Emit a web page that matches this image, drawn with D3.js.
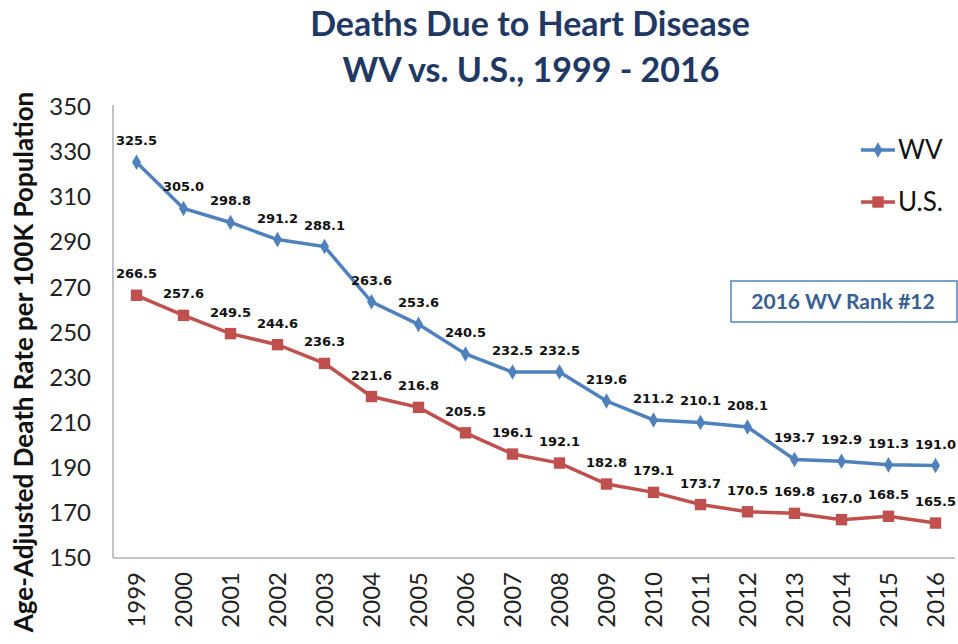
<!DOCTYPE html>
<html lang="en">
<head>
  <meta charset="UTF-8">
  <title>Deaths Due to Heart Disease</title>
  <script src="https://cdn.jsdelivr.net/npm/d3@7/dist/d3.min.js"></script>
  <style>
    body { margin: 0; background: #fff; }
    svg { display: block; }
    .axis path { stroke: #868686; }
    .axis line { display: none; }
    .axis text { font-family: Lato, sans-serif; font-size: 24px; fill: #222; }
    .lbl { font-family: "DejaVu Sans", sans-serif; font-size: 13px; font-weight: bold; fill: #111; text-anchor: middle; }
  </style>
</head>
<body>
<script>
  const years = [1999, 2000, 2001, 2002, 2003, 2004, 2005, 2006, 2007, 2008, 2009, 2010, 2011, 2012, 2013, 2014, 2015, 2016]
  const wv = [325.5, 305.0, 298.8, 291.2, 288.1, 263.6, 253.6, 240.5, 232.5, 232.5, 219.6, 211.2, 210.1, 208.1, 193.7, 192.9, 191.3, 191.0]
  const us = [266.5, 257.6, 249.5, 244.6, 236.3, 221.6, 216.8, 205.5, 196.1, 192.1, 182.8, 179.1, 173.7, 170.5, 169.8, 167.0, 168.5, 165.5]
  const yTicks = [150, 170, 190, 210, 230, 250, 270, 290, 310, 330, 350]

  const width = 958, height = 644
  const mLeft = 113, mRight = 959, mTop = 107, mBottom = 558

  const svg = d3.select('body').append('svg')
    .attr('width', width)
    .attr('height', height)

  const x = d3.scaleBand().domain(years).range([mLeft, mRight])
  const y = d3.scaleLinear().domain([150, 350]).range([mBottom, mTop])

  // title
  svg.append('text')
    .attr('x', 530).attr('y', 36)
    .attr('text-anchor', 'middle')
    .style('font-family', 'Lato, sans-serif').style('font-weight', 'bold')
    .style('font-size', '34px').style('fill', '#1F3864')
    .text('Deaths Due to Heart Disease')
  svg.append('text')
    .attr('x', 531).attr('y', 82)
    .attr('text-anchor', 'middle')
    .style('font-family', 'Lato, sans-serif').style('font-weight', 'bold')
    .style('font-size', '34px').style('fill', '#1F3864')
    .text('WV vs. U.S., 1999 - 2016')

  // axes
  svg.append('g')
    .attr('class', 'axis')
    .attr('transform', `translate(${mLeft},0)`)
    .call(d3.axisLeft(y).tickValues(yTicks).tickSize(0).tickPadding(22))
    .call(g => g.select('.domain').attr('d', `M0,${mTop - 2}V${mBottom}`))

  const gx = svg.append('g')
    .attr('class', 'axis')
    .attr('transform', `translate(0,${mBottom})`)
    .call(d3.axisBottom(x).tickSize(0))
  gx.select('.domain').attr('d', `M${mLeft},0H${width - 3}`)
  gx.selectAll('text')
    .attr('transform', 'rotate(-90)')
    .attr('text-anchor', 'end')
    .attr('x', -14).attr('y', 0).attr('dy', '0.35em')

  svg.append('text')
    .attr('transform', 'translate(33,362) rotate(-90)')
    .attr('text-anchor', 'middle')
    .style('font-family', 'Lato, sans-serif').style('font-weight', 'bold')
    .style('font-size', '26px').style('fill', '#111')
    .text('Age-Adjusted Death Rate per 100K Population')

  const line = d3.line().x((d, i) => x(years[i]) + x.bandwidth() / 2).y(d => y(d))

  const series = [
    { name: 'WV', values: wv, color: '#4F81BD', shape: d3.symbolDiamond, size: 70 },
    { name: 'U.S.', values: us, color: '#C0504D', shape: d3.symbolSquare, size: 130 }
  ]

  series.forEach(s => {
    svg.append('path')
      .datum(s.values)
      .attr('fill', 'none')
      .attr('stroke', s.color)
      .attr('stroke-width', 3.5)
      .attr('d', line)
    svg.selectAll(null)
      .data(s.values)
      .enter()
      .append('path')
      .attr('transform', (d, i) => `translate(${x(years[i]) + x.bandwidth() / 2},${y(d)})`)
      .attr('d', d3.symbol(s.shape, s.size))
      .attr('fill', s.color)
    svg.selectAll(null)
      .data(s.values)
      .enter()
      .append('text')
      .attr('class', 'lbl')
      .attr('x', (d, i) => x(years[i]) + x.bandwidth() / 2)
      .attr('y', d => y(d) - 17)
      .text(d => d.toFixed(1))
  })

  // legend
  series.forEach((s, i) => {
    const ly = 150 + i * 52
    svg.append('line')
      .attr('x1', 861).attr('x2', 895).attr('y1', ly).attr('y2', ly)
      .attr('stroke', s.color).attr('stroke-width', 3.5)
    svg.append('path')
      .attr('transform', `translate(878,${ly})`)
      .attr('d', d3.symbol(s.shape, s.size))
      .attr('fill', s.color)
    svg.append('text')
      .attr('x', 898).attr('y', ly).attr('dy', '0.35em')
      .style('font-family', 'Lato, sans-serif').style('font-size', '26px').style('fill', '#111')
      .text(s.name)
  })

  // rank box
  svg.append('rect')
    .attr('x', 731).attr('y', 281).attr('width', 226).attr('height', 41)
    .attr('fill', '#fff').attr('stroke', '#4F81BD').attr('stroke-width', 1.5)
  svg.append('text')
    .attr('x', 843).attr('y', 302).attr('dy', '0.35em')
    .attr('text-anchor', 'middle')
    .style('font-family', 'Lato, sans-serif').style('font-weight', 'bold')
    .style('font-size', '21px').style('fill', '#376092')
    .text('2016 WV Rank #12')
</script>
</body>
</html>
